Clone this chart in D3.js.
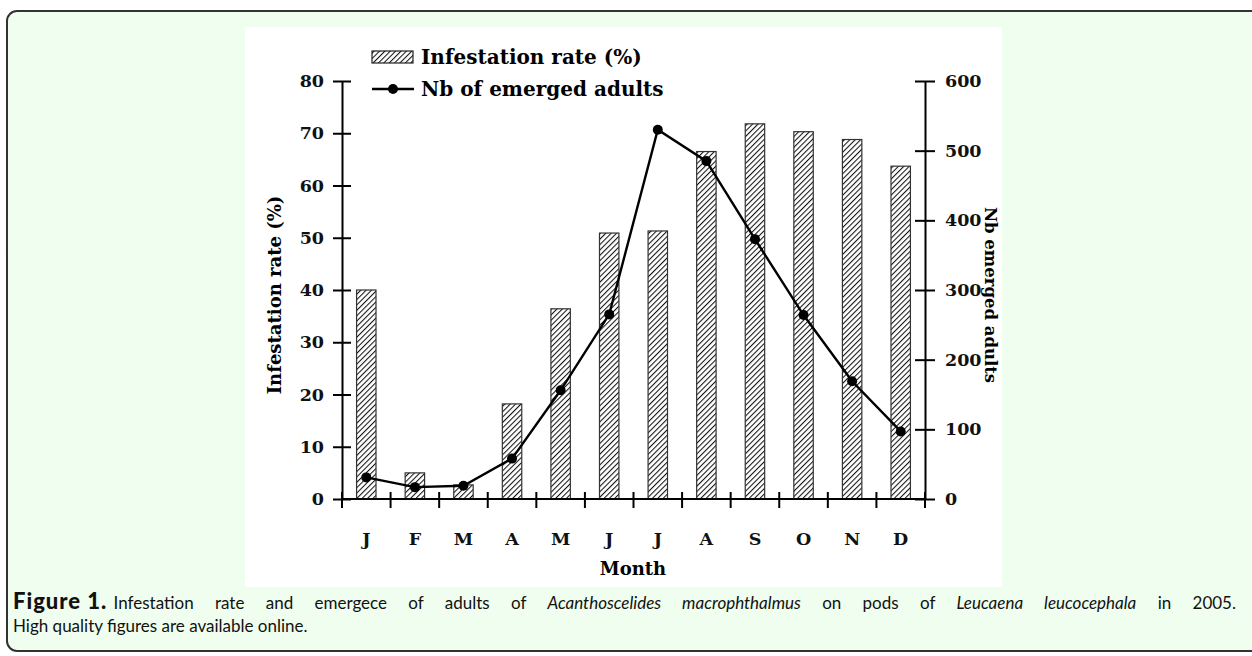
<!DOCTYPE html>
<html>
<head>
<meta charset="utf-8">
<script src="https://cdn.jsdelivr.net/npm/d3@7"></script>
<style>
  body { margin: 0; background: #fff; }
  svg { display: block; }
</style>
</head>
<body>
<div id="chart"></div>
<script>
// data
const months = ["J", "F", "M", "A", "M", "J", "J", "A", "S", "O", "N", "D"];
const infestation = [40, 5, 2.7, 18.2, 36.4, 50.9, 51.3, 66.5, 71.8, 70.3, 68.8, 63.7];
const adults = [31, 17, 19, 58, 156, 265, 530, 485, 373, 264, 169, 97];
const leftTicks = [0, 10, 20, 30, 40, 50, 60, 70, 80];
const rightTicks = [0, 100, 200, 300, 400, 500, 600];

function init() {
  const W = 1252, H = 656;
  const serif = "'DejaVu Serif', serif";

  const svg = d3.select("#chart").append("svg")
    .attr("width", W)
    .attr("height", H);

  const defs = svg.append("defs");
  const pat = defs.append("pattern")
    .attr("id", "hatch")
    .attr("patternUnits", "userSpaceOnUse")
    .attr("width", 3.8)
    .attr("height", 3.8)
    .attr("patternTransform", "rotate(45)");
  pat.append("rect").attr("width", 3.8).attr("height", 3.8).attr("fill", "#fff");
  pat.append("line")
    .attr("x1", 0).attr("y1", 0).attr("x2", 0).attr("y2", 3.8)
    .attr("stroke", "#111").attr("stroke-width", 2.1);

  // outer frame
  svg.append("rect")
    .attr("x", 7).attr("y", 11)
    .attr("width", 1270).attr("height", 640)
    .attr("rx", 10)
    .attr("fill", "#effeee")
    .attr("stroke", "#333")
    .attr("stroke-width", 2);

  // white figure area
  svg.append("rect")
    .attr("x", 245).attr("y", 27)
    .attr("width", 757).attr("height", 560)
    .attr("fill", "#fff");

  const x0 = 342, x1 = 925, yTop = 81, yBot = 499;

  const x = d3.scaleBand()
    .domain(d3.range(months.length))
    .range([x0, x1]);
  const yL = d3.scaleLinear().domain([0, 80]).range([yBot, yTop]);
  const yR = d3.scaleLinear().domain([0, 600]).range([yBot, yTop]);

  const g = svg.append("g");

  // bars
  const bw = x.bandwidth() * 0.4;
  g.selectAll("rect.bar")
    .data(infestation)
    .enter()
    .append("rect")
    .attr("class", "bar")
    .attr("x", (d, i) => x(i) + x.bandwidth() / 2 - bw / 2)
    .attr("y", d => yL(d))
    .attr("width", bw)
    .attr("height", d => yL(0) - yL(d))
    .attr("fill", "url(#hatch)")
    .attr("stroke", "#333")
    .attr("stroke-width", 1.2);

  // line + dots
  const line = d3.line()
    .x((d, i) => x(i) + x.bandwidth() / 2)
    .y(d => yR(d));

  g.append("path")
    .datum(adults)
    .attr("d", line)
    .attr("fill", "none")
    .attr("stroke", "#000")
    .attr("stroke-width", 2.4);

  g.selectAll("circle.pt")
    .data(adults)
    .enter()
    .append("circle")
    .attr("class", "pt")
    .attr("cx", (d, i) => x(i) + x.bandwidth() / 2)
    .attr("cy", d => yR(d))
    .attr("r", 5)
    .attr("fill", "#000");

  // left axis
  const axL = g.append("g")
    .attr("transform", "translate(" + x0 + ",0)")
    .call(d3.axisLeft(yL).tickValues(leftTicks).tickSizeOuter(0).tickPadding(12));
  axL.selectAll(".tick line").attr("x1", -9).attr("x2", 9);

  // right axis
  const axR = g.append("g")
    .attr("transform", "translate(" + x1 + ",0)")
    .call(d3.axisRight(yR).tickValues(rightTicks).tickSizeOuter(0).tickPadding(14));
  axR.selectAll(".tick line").attr("x1", -10).attr("x2", 10);

  // bottom axis: ticks at band boundaries
  const axB = g.append("g")
    .attr("transform", "translate(0," + yBot + ")");
  axB.append("line")
    .attr("x1", x0).attr("x2", x1)
    .attr("stroke", "#000").attr("stroke-width", 2);
  axB.selectAll("line.tk")
    .data(d3.range(months.length + 1))
    .enter()
    .append("line")
    .attr("class", "tk")
    .attr("x1", i => x0 + i * x.step())
    .attr("x2", i => x0 + i * x.step())
    .attr("y1", -7).attr("y2", 9)
    .attr("stroke", "#000").attr("stroke-width", 2);
  axB.selectAll("text.mlab")
    .data(months)
    .enter()
    .append("text")
    .attr("class", "mlab")
    .attr("x", (d, i) => x(i) + x.bandwidth() / 2)
    .attr("y", 46)
    .attr("text-anchor", "middle")
    .text(d => d);

  [axL, axR].forEach(a => {
    a.select(".domain").attr("stroke", "#000").attr("stroke-width", 2);
    a.selectAll(".tick line").attr("stroke", "#000").attr("stroke-width", 2);
  });

  g.selectAll("text")
    .attr("font-family", serif)
    .attr("font-weight", "bold")
    .attr("font-size", 17.5)
    .attr("fill", "#111");

  // axis titles
  svg.append("text")
    .attr("transform", "translate(281,295) rotate(-90)")
    .attr("text-anchor", "middle")
    .attr("font-family", serif).attr("font-weight", "bold").attr("font-size", 18)
    .text("Infestation rate (%)");

  svg.append("text")
    .attr("transform", "translate(985,295) rotate(90)")
    .attr("text-anchor", "middle")
    .attr("font-family", serif).attr("font-weight", "bold").attr("font-size", 16.5)
    .text("Nb emerged adults");

  svg.append("text")
    .attr("x", 633).attr("y", 575)
    .attr("text-anchor", "middle")
    .attr("font-family", serif).attr("font-weight", "bold").attr("font-size", 18)
    .text("Month");

  // legend
  const lg = svg.append("g");
  lg.append("rect")
    .attr("x", 372).attr("y", 51)
    .attr("width", 41).attr("height", 12)
    .attr("fill", "url(#hatch)")
    .attr("stroke", "#222").attr("stroke-width", 1.2);
  lg.append("text")
    .attr("x", 421).attr("y", 64)
    .attr("font-family", serif).attr("font-weight", "bold").attr("font-size", 20)
    .text("Infestation rate (%)");
  lg.append("line")
    .attr("x1", 372).attr("x2", 414)
    .attr("y1", 89).attr("y2", 89)
    .attr("stroke", "#000").attr("stroke-width", 2.4);
  lg.append("circle")
    .attr("cx", 393).attr("cy", 89).attr("r", 5);
  lg.append("text")
    .attr("x", 421).attr("y", 96)
    .attr("font-family", serif).attr("font-weight", "bold").attr("font-size", 20)
    .text("Nb of emerged adults");

  // caption, first line justified to the frame width
  const cap = svg.append("text")
    .attr("x", 13).attr("y", 609)
    .attr("font-family", "Lato, sans-serif")
    .attr("font-size", 17)
    .attr("fill", "#111");
  cap.append("tspan").attr("font-weight", 900).attr("font-size", 22)
    .attr("letter-spacing", 1).attr("word-spacing", 0).text("Figure 1. ");
  cap.append("tspan").text("Infestation rate and emergece of adults of ");
  cap.append("tspan").attr("font-style", "italic").text("Acanthoscelides macrophthalmus");
  cap.append("tspan").text(" on pods of ");
  cap.append("tspan").attr("font-style", "italic").text("Leucaena leucocephala");
  cap.append("tspan").text(" in 2005.");

  const natural = cap.node().getComputedTextLength();
  const spaces = 15;
  cap.attr("word-spacing", Math.max(0, (1223 - natural) / spaces));
  cap.select("tspan").attr("word-spacing", 0);

  svg.append("text")
    .attr("x", 13).attr("y", 632)
    .attr("font-family", "Lato, sans-serif")
    .attr("font-size", 17)
    .attr("fill", "#111")
    .text("High quality figures are available online.");
}
init();
</script>
</body>
</html>
